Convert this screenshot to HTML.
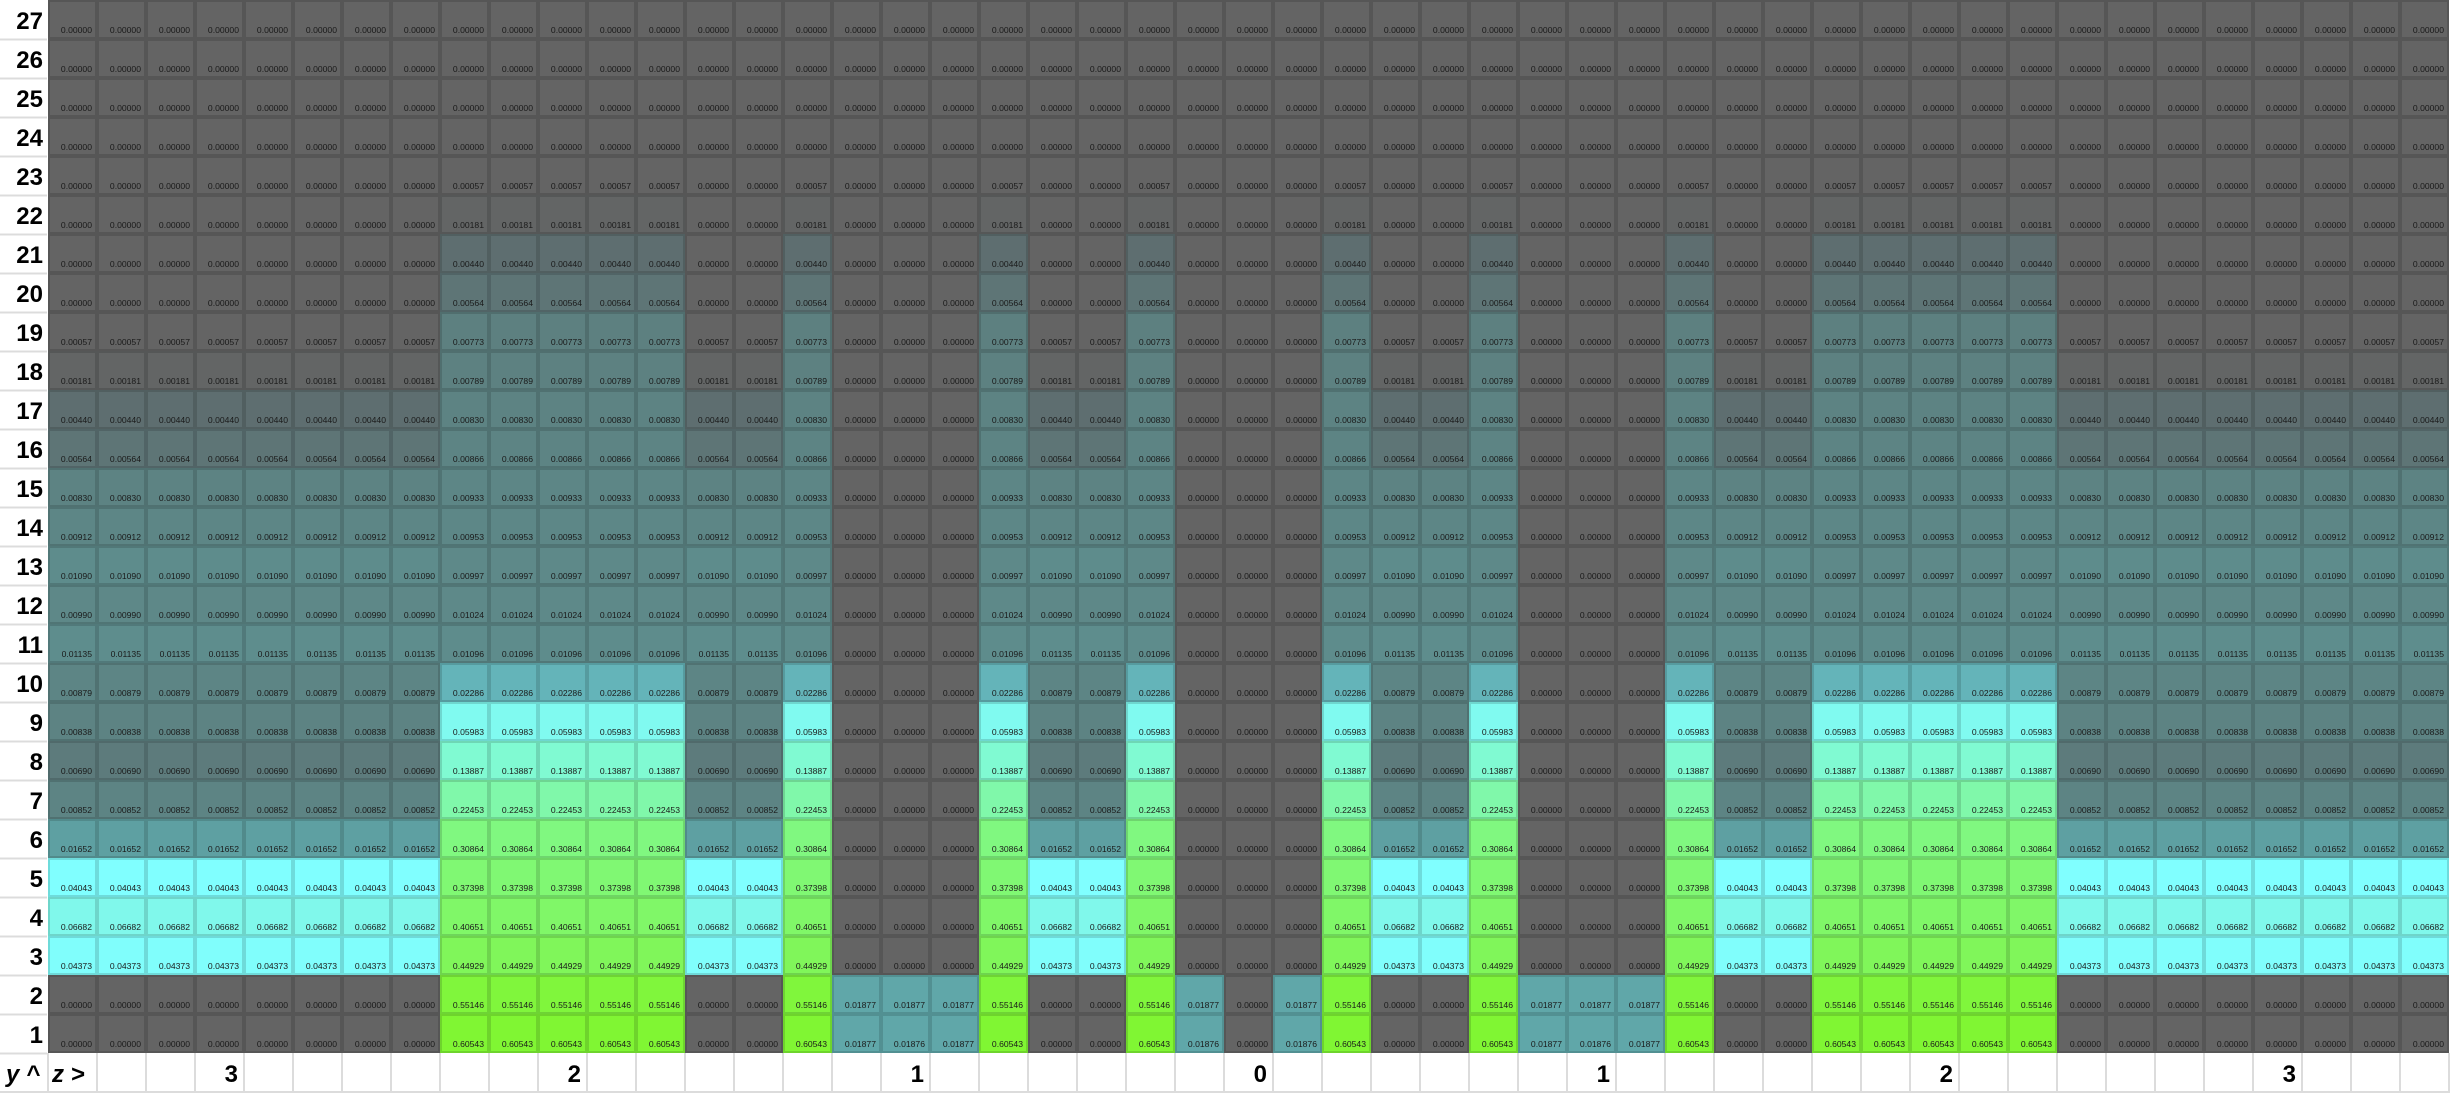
<!DOCTYPE html>
<html><head><meta charset="utf-8"><style>
html,body{margin:0;padding:0;background:#fff;width:2450px;height:1093px;overflow:hidden}
svg{display:block}
</style></head><body>
<svg id="chart" width="2450" height="1093" xmlns="http://www.w3.org/2000/svg"></svg>
<script>
// Row profiles for y = 1..27 (index 0 = y 1)
const outerProfile = [0,0,0.04373,0.06682,0.04043,0.01652,0.00852,0.00690,0.00838,0.00879,0.01135,0.00990,0.01090,0.00912,0.00830,0.00564,0.00440,0.00181,0.00057,0,0,0,0,0,0,0,0];
const greenProfile = [0.60543,0.55146,0.44929,0.40651,0.37398,0.30864,0.22453,0.13887,0.05983,0.02286,0.01096,0.01024,0.00997,0.00953,0.00933,0.00866,0.00830,0.00789,0.00773,0.00564,0.00440,0.00181,0.00057,0,0,0,0];
const oneAProfile = [0.01877,0.01877,0,0,0,0,0,0,0,0,0,0,0,0,0,0,0,0,0,0,0,0,0,0,0,0,0];
const oneBProfile = [0.01876,0.01877,0,0,0,0,0,0,0,0,0,0,0,0,0,0,0,0,0,0,0,0,0,0,0,0,0];
const zeroProfile = [0,0,0,0,0,0,0,0,0,0,0,0,0,0,0,0,0,0,0,0,0,0,0,0,0,0,0];
// Column types, left to right (49 columns)
const columnTypes = ['o','o','o','o','o','o','o','o','g','g','g','g','g','o','o','g','a','b','a','g','o','o','g','b','z','b','g','o','o','g','a','b','a','g','o','o','g','g','g','g','g','o','o','o','o','o','o','o','o'];
// z-axis labels per column ('' = blank)
const zLabels = ['z >','','','3','','','','','','','2','','','','','','','1','','','','','','','0','','','','','','','1','','','','','','','2','','','','','','','3','','',''];
const yLabels = ['1','2','3','4','5','6','7','8','9','10','11','12','13','14','15','16','17','18','19','20','21','22','23','24','25','26','27'];

const profiles = {o:outerProfile,g:greenProfile,a:oneAProfile,b:oneBProfile,z:zeroProfile};
const NS='http://www.w3.org/2000/svg';
const svg=document.getElementById('chart');
const X0=48, CW=49, RH=39, NR=27;
const xPos=c=>X0+c*CW;
const yPos=r=>(NR-1-r)*RH; // r = 0 for y=1

const stops=[[0,100,100,100],[0.002,99,101,101],[0.0044,94,110,112],[0.0083,93,131,131],[0.011,94,140,140],[0.0165,94,160,162],[0.019,96,168,170],[0.0229,100,180,185],[0.04,128,255,255],[0.067,128,248,235],[0.139,128,250,210],[0.2245,128,248,170],[0.309,128,248,128],[0.374,128,248,115],[0.449,128,246,90],[0.551,128,246,60],[0.61,128,246,50]];
function color(v,k){
  let c=stops[stops.length-1].slice(1);
  for(let i=0;i<stops.length-1;i++){
    if(v<=stops[i+1][0]){const a=stops[i],b=stops[i+1];const t=(v-a[0])/(b[0]-a[0]);c=[1,2,3].map(j=>a[j]+(b[j]-a[j])*t);break;}
  }
  return 'rgb('+c.map(x=>Math.round(x*k)).join(',')+')';
}
function mk(tag,attrs){const e=document.createElementNS(NS,tag);for(const k in attrs)e.setAttribute(k,attrs[k]);return e;}

// label column + bottom row background
const bg=mk('rect',{x:0,y:0,width:2450,height:1093,fill:'#ffffff'});


svg.appendChild(bg);

for(let r=0;r<NR;r++){
  for(let c=0;c<columnTypes.length;c++){
    const v=profiles[columnTypes[c]][r];
    const g=mk('g',{});
    
    
    const rect=mk('rect',{x:xPos(c)+1,y:yPos(r)+1,width:CW-2,height:RH-2,fill:color(v,1),stroke:color(v,0.86),'stroke-width':2});
    g.appendChild(rect);
    const t=mk('text',{x:xPos(c)+CW-5,y:yPos(r)+33,'text-anchor':'end','font-family':'"Liberation Sans",sans-serif','font-size':'8.6',fill:'#1a1a1a'});
    t.textContent=v.toFixed(5);
    g.appendChild(t);
    svg.appendChild(g);
  }
  const yl=mk('text',{x:43,y:yPos(r)+29,'text-anchor':'end','font-family':'"Liberation Sans",sans-serif','font-size':'24','font-weight':'bold',fill:'#000'});
  
  
  yl.textContent=yLabels[r];
  svg.appendChild(yl);
  const ln=mk('line',{x1:0,x2:47,y1:yPos(r)+RH+0.5,y2:yPos(r)+RH+0.5,stroke:'#dcdcdc','stroke-width':2});
  svg.appendChild(ln);
}
// bottom row
const BY=NR*RH;
for(let c=0;c<=columnTypes.length;c++){
  const l=mk('line',{x1:xPos(c),x2:xPos(c),y1:BY,y2:1093,stroke:'#dcdcdc','stroke-width':2});
  svg.appendChild(l);
}
svg.appendChild(mk('line',{x1:0,x2:2450,y1:1092,y2:1092,stroke:'#dcdcdc','stroke-width':2}));
const ya=mk('text',{x:6,y:BY+29,'font-family':'"Liberation Sans",sans-serif','font-size':'24','font-weight':'bold','font-style':'italic',fill:'#000'});


ya.textContent='y ^';
svg.appendChild(ya);
for(let c=0;c<zLabels.length;c++){
  if(!zLabels[c])continue;
  const first=c===0;
  const t=mk('text',{x:first?xPos(c)+4:xPos(c)+CW-6,y:BY+29,'text-anchor':first?'start':'end','font-family':'"Liberation Sans",sans-serif','font-size':'24','font-weight':'bold','font-style':first?'italic':'normal',fill:'#000'});
  
  
  t.textContent=zLabels[c];
  svg.appendChild(t);
}
</script>
</body></html>
